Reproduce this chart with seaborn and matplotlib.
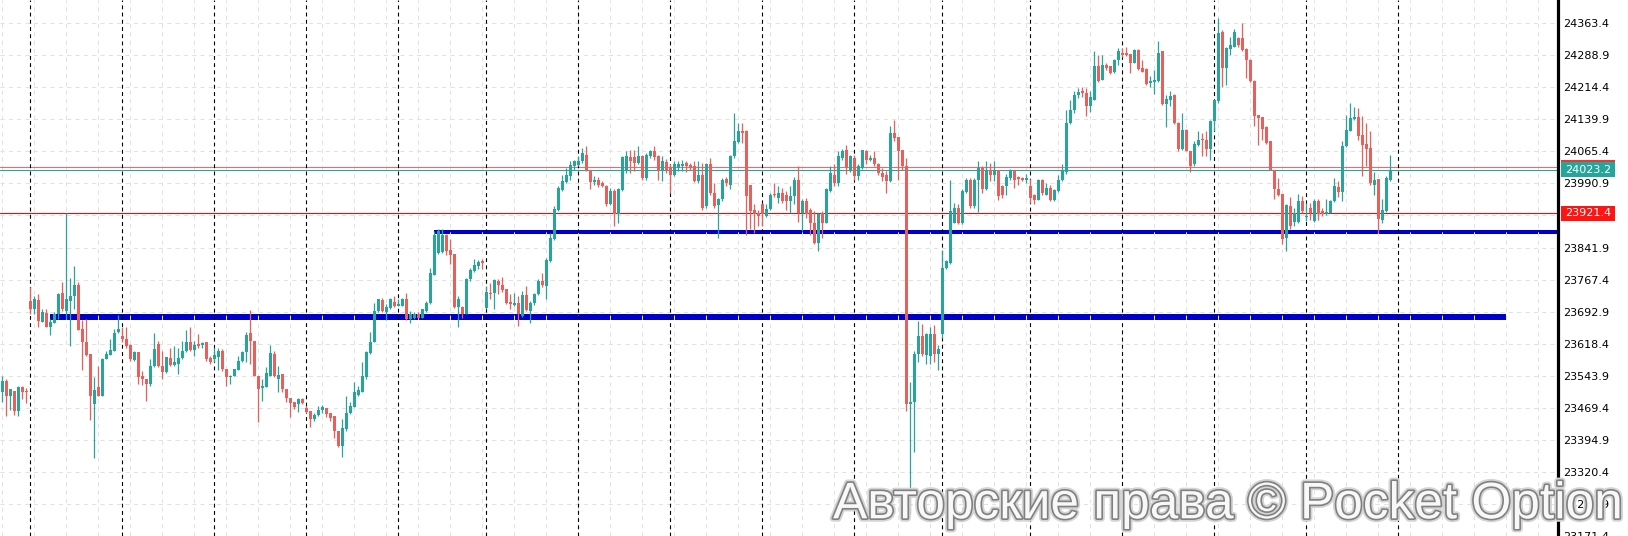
import numpy as np
import pandas as pd
import matplotlib
matplotlib.use("Agg")
import matplotlib.pyplot as plt
import matplotlib.patheffects as pe
from matplotlib.patches import Rectangle
import seaborn as sns

# свечи (OHLC), слева направо
opens = [
    23505, 23532, 23497, 23509, 23462, 23517, 23508, 23718, 23698, 23719, 23669, 23689,
    23657, 23667, 23687, 23737, 23694, 23718, 23729, 23754, 23652, 23621, 23594, 23478,
    23517, 23497, 23582, 23593, 23602, 23646, 23636, 23629, 23615, 23581, 23599, 23544,
    23537, 23524, 23567, 23617, 23567, 23553, 23586, 23569, 23571, 23586, 23602, 23622,
    23604, 23617, 23615, 23621, 23584, 23582, 23588, 23602, 23559, 23540, 23542, 23558,
    23578, 23599, 23643, 23625, 23542, 23515, 23517, 23544, 23595, 23536, 23547, 23513,
    23493, 23483, 23478, 23489, 23469, 23462, 23442, 23452, 23465, 23468, 23456, 23449,
    23416, 23381, 23420, 23456, 23472, 23499, 23506, 23540, 23596, 23622, 23694, 23720,
    23692, 23702, 23715, 23707, 23707, 23721, 23675, 23679, 23687, 23679, 23694, 23712,
    23779, 23830, 23831, 23870, 23836, 23826, 23704, 23704, 23688, 23768, 23787, 23799,
    23810, 23702, 23737, 23735, 23764, 23754, 23745, 23715, 23708, 23712, 23683, 23731,
    23694, 23712, 23733, 23764, 23752, 23810, 23861, 23930, 23975, 23994, 24008, 24031,
    24033, 24042, 24058, 24022, 23994, 24000, 23991, 23986, 23942, 23973, 23919, 23975,
    24019, 24052, 24052, 24039, 24054, 24004, 24054, 24066, 24054, 24023, 24040, 24027,
    24011, 24027, 24031, 24039, 24034, 24031, 23996, 24011, 23938, 24035, 23969, 23940,
    23954, 24002, 23988, 24054, 24087, 24112, 24112, 23988, 23930, 23922, 23944, 23915,
    23932, 23967, 23957, 23969, 23963, 23950, 23961, 23998, 23923, 23950, 23930, 23898,
    23853, 23923, 23899, 23973, 24011, 23992, 24050, 24068, 24019, 24050, 24008, 24027,
    24066, 24046, 24050, 24035, 24015, 24011, 23996, 24108, 24098, 24068, 24032, 23478,
    23482, 23594, 23636, 23591, 23590, 23640, 23594, 23640, 23795, 23806, 23899, 23934,
    23898, 23970, 24000, 23938, 24000, 24027, 23977, 24023, 24011, 24023, 23986, 23984,
    24004, 24019, 24005, 24004, 24000, 23986, 23965, 23953, 24000, 23965, 23981, 23953,
    23973, 24000, 24017, 24131, 24161, 24197, 24205, 24202, 24172, 24186, 24263, 24232,
    24267, 24263, 24249, 24277, 24294, 24294, 24291, 24272, 24302, 24259, 24257, 24224,
    24226, 24228, 24298, 24176, 24186, 24197, 24131, 24070, 24116, 24066, 24035, 24081,
    24094, 24093, 24071, 24135, 24182, 24342, 24259, 24303, 24309, 24329, 24329, 24303,
    24279, 24230, 24151, 24145, 24122, 24089, 24023, 23978, 23967, 23864, 23938, 23901,
    23901, 23950, 23914, 23934, 23903, 23950, 23926, 23919, 23922, 23949, 23983, 23970,
    24077, 24114, 24141, 24145, 24104, 24083, 24073, 23988, 24001, 23906, 23926, 24000,
]
highs = [
    23544, 23536, 23513, 23509, 23520, 23520, 23516, 23751, 23728, 23733, 23698, 23698,
    23675, 23691, 23737, 23762, 23921, 23772, 23799, 23762, 23673, 23675, 23594, 23540,
    23567, 23586, 23602, 23629, 23652, 23684, 23656, 23657, 23617, 23602, 23599, 23554,
    23537, 23582, 23644, 23625, 23602, 23588, 23609, 23613, 23609, 23625, 23650, 23656,
    23625, 23640, 23622, 23622, 23590, 23609, 23609, 23605, 23559, 23546, 23559, 23590,
    23602, 23646, 23696, 23625, 23542, 23536, 23563, 23615, 23602, 23567, 23547, 23513,
    23493, 23483, 23493, 23491, 23474, 23462, 23458, 23474, 23475, 23468, 23458, 23449,
    23416, 23443, 23497, 23482, 23528, 23520, 23576, 23602, 23646, 23714, 23723, 23725,
    23710, 23725, 23728, 23721, 23725, 23735, 23694, 23692, 23691, 23700, 23718, 23795,
    23880, 23885, 23885, 23874, 23861, 23826, 23728, 23706, 23772, 23795, 23816, 23813,
    23816, 23752, 23760, 23769, 23769, 23774, 23746, 23733, 23737, 23729, 23741, 23752,
    23718, 23735, 23768, 23782, 23818, 23876, 23938, 23984, 24011, 24027, 24042, 24046,
    24054, 24073, 24077, 24023, 24008, 24006, 23996, 23988, 23981, 23977, 23981, 24054,
    24066, 24069, 24069, 24079, 24058, 24062, 24069, 24079, 24058, 24054, 24048, 24035,
    24042, 24042, 24046, 24044, 24039, 24042, 24042, 24039, 24039, 24050, 23992, 23957,
    24004, 24006, 24058, 24155, 24131, 24131, 24116, 23988, 23942, 23930, 23946, 23942,
    23969, 23992, 23986, 23981, 23973, 23986, 24006, 24031, 23954, 23957, 23934, 23926,
    23923, 23926, 23981, 24031, 24035, 24066, 24071, 24081, 24058, 24058, 24035, 24069,
    24069, 24058, 24066, 24039, 24027, 24019, 24125, 24139, 24100, 24069, 24050, 23528,
    23602, 23671, 23663, 23644, 23656, 23661, 23615, 23837, 23814, 23999, 23946, 23942,
    23977, 24004, 24004, 24004, 24042, 24031, 24042, 24039, 24042, 24023, 23988, 24014,
    24025, 24023, 24009, 24006, 24014, 24001, 23967, 24001, 24001, 23991, 23988, 23977,
    24011, 24035, 24162, 24185, 24207, 24212, 24215, 24212, 24205, 24298, 24290, 24290,
    24271, 24265, 24280, 24305, 24305, 24308, 24292, 24303, 24303, 24277, 24259, 24240,
    24254, 24322, 24300, 24197, 24207, 24199, 24133, 24155, 24117, 24066, 24089, 24112,
    24108, 24112, 24138, 24186, 24375, 24348, 24309, 24331, 24349, 24331, 24365, 24305,
    24280, 24232, 24151, 24145, 24124, 24089, 24023, 24004, 23967, 23942, 23960, 23934,
    23967, 23961, 23946, 23946, 23955, 23954, 23934, 23954, 23953, 24004, 23996, 24089,
    24151, 24179, 24168, 24166, 24148, 24131, 24112, 24017, 24001, 23955, 24009, 24056,
]
lows = [
    23482, 23449, 23465, 23452, 23451, 23489, 23480, 23687, 23687, 23657, 23669, 23657,
    23639, 23666, 23675, 23694, 23675, 23612, 23698, 23650, 23558, 23590, 23441, 23352,
    23497, 23497, 23582, 23593, 23602, 23644, 23622, 23609, 23578, 23578, 23524, 23522,
    23484, 23520, 23565, 23563, 23536, 23551, 23567, 23567, 23547, 23582, 23598, 23602,
    23590, 23608, 23609, 23578, 23571, 23575, 23558, 23555, 23519, 23524, 23542, 23558,
    23575, 23575, 23571, 23542, 23435, 23486, 23517, 23542, 23540, 23507, 23505, 23482,
    23447, 23466, 23459, 23478, 23458, 23425, 23439, 23451, 23458, 23447, 23439, 23398,
    23377, 23354, 23416, 23455, 23470, 23497, 23505, 23536, 23594, 23621, 23691, 23692,
    23674, 23700, 23704, 23707, 23706, 23673, 23667, 23675, 23677, 23677, 23691, 23710,
    23777, 23826, 23828, 23824, 23803, 23702, 23658, 23677, 23687, 23764, 23785, 23791,
    23793, 23700, 23721, 23700, 23733, 23738, 23710, 23700, 23706, 23660, 23681, 23694,
    23666, 23708, 23731, 23751, 23723, 23808, 23859, 23926, 23973, 23992, 24000, 24023,
    24031, 24039, 24019, 23977, 23988, 23983, 23983, 23938, 23940, 23892, 23899, 23973,
    24015, 24015, 24019, 24035, 24000, 24000, 24050, 24046, 24000, 23996, 24015, 23969,
    24009, 24019, 24019, 24017, 24023, 23994, 23992, 23930, 23934, 23965, 23934, 23865,
    23950, 23984, 23977, 24050, 24085, 24085, 23872, 23884, 23876, 23892, 23892, 23913,
    23930, 23960, 23946, 23946, 23930, 23923, 23942, 23901, 23880, 23911, 23870, 23851,
    23834, 23865, 23898, 23970, 23984, 23984, 24046, 24014, 24017, 24000, 24000, 24025,
    24035, 24042, 24031, 24011, 23996, 23969, 23994, 24089, 24000, 24023, 23462, 23223,
    23366, 23575, 23590, 23571, 23571, 23575, 23557, 23632, 23791, 23803, 23898, 23896,
    23896, 23969, 23934, 23934, 23924, 23969, 23975, 23996, 23996, 23952, 23957, 23965,
    24000, 23980, 23988, 23996, 23992, 23946, 23944, 23952, 23965, 23963, 23950, 23950,
    23970, 23996, 24014, 24128, 24155, 24190, 24193, 24148, 24156, 24184, 24226, 24232,
    24255, 24246, 24247, 24267, 24285, 24288, 24247, 24271, 24254, 24249, 24220, 24216,
    24199, 24226, 24174, 24121, 24172, 24130, 24066, 24068, 24066, 24018, 24032, 24077,
    24054, 24054, 24046, 24112, 24178, 24215, 24220, 24290, 24308, 24309, 24300, 24236,
    24226, 24125, 24081, 24093, 24083, 24022, 23955, 23961, 23849, 23834, 23884, 23893,
    23899, 23922, 23903, 23907, 23901, 23907, 23915, 23918, 23921, 23947, 23960, 23950,
    24076, 24112, 24139, 24093, 24009, 24031, 23988, 23965, 23876, 23899, 23924, 23996,
]
closes = [
    23532, 23497, 23513, 23462, 23517, 23507, 23506, 23698, 23722, 23671, 23691, 23657,
    23669, 23687, 23733, 23698, 23722, 23728, 23754, 23650, 23621, 23592, 23497, 23510,
    23497, 23582, 23594, 23604, 23644, 23653, 23629, 23613, 23582, 23599, 23540, 23536,
    23524, 23567, 23606, 23567, 23553, 23588, 23569, 23575, 23584, 23602, 23622, 23604,
    23616, 23613, 23619, 23582, 23576, 23592, 23602, 23559, 23540, 23544, 23559, 23578,
    23598, 23638, 23625, 23542, 23514, 23520, 23551, 23596, 23544, 23545, 23513, 23493,
    23480, 23472, 23489, 23480, 23460, 23443, 23452, 23465, 23470, 23455, 23445, 23416,
    23381, 23421, 23458, 23474, 23506, 23510, 23544, 23598, 23622, 23694, 23721, 23694,
    23704, 23721, 23706, 23710, 23721, 23675, 23687, 23688, 23679, 23698, 23712, 23782,
    23872, 23880, 23872, 23834, 23824, 23704, 23723, 23687, 23768, 23790, 23801, 23808,
    23805, 23738, 23733, 23766, 23754, 23743, 23712, 23710, 23712, 23687, 23731, 23696,
    23714, 23733, 23764, 23754, 23814, 23865, 23932, 23981, 23996, 24011, 24033, 24044,
    24044, 24062, 24022, 23994, 24000, 23988, 23984, 23942, 23973, 23919, 23977, 24052,
    24054, 24044, 24039, 24054, 24004, 24058, 24066, 24052, 24023, 24042, 24023, 24011,
    24037, 24035, 24036, 24031, 24027, 23996, 24011, 23934, 24035, 23969, 23938, 23954,
    24000, 23991, 24054, 24089, 24112, 24108, 23961, 23926, 23919, 23915, 23919, 23932,
    23965, 23963, 23969, 23950, 23950, 23961, 24000, 23923, 23950, 23919, 23898, 23853,
    23919, 23899, 23977, 24015, 23992, 24054, 24066, 24027, 24054, 24008, 24031, 24068,
    24046, 24050, 24035, 24015, 24006, 23996, 24108, 24097, 24066, 24031, 23478, 23482,
    23594, 23636, 23594, 23640, 23640, 23594, 23607, 23795, 23810, 23926, 23934, 23898,
    23973, 24000, 23938, 24000, 24027, 23977, 24019, 24011, 24023, 23961, 23963, 24006,
    24019, 24000, 24001, 24000, 24004, 23957, 23953, 24000, 23969, 23981, 23953, 23975,
    24000, 24019, 24131, 24162, 24197, 24203, 24201, 24170, 24192, 24263, 24228, 24267,
    24259, 24247, 24278, 24300, 24290, 24290, 24271, 24302, 24257, 24251, 24222, 24228,
    24232, 24295, 24176, 24187, 24195, 24131, 24070, 24116, 24066, 24032, 24083, 24093,
    24091, 24071, 24135, 24186, 24340, 24259, 24305, 24313, 24344, 24313, 24301, 24277,
    24228, 24147, 24143, 24117, 24086, 24023, 23978, 23965, 23862, 23940, 23892, 23921,
    23950, 23926, 23916, 23922, 23950, 23919, 23919, 23924, 23951, 23986, 23970, 24077,
    24116, 24143, 24145, 24102, 24081, 24071, 23991, 24000, 23909, 23929, 24004, 24023,
]

# разделители сессий (номер свечи) и шкала цен
session_breaks = [7, 30, 53, 76, 99, 121, 144, 167, 190, 213, 235, 257, 280, 303, 326, 349]
price_ticks = [24363.4, 24288.9, 24214.4, 24139.9, 24065.4, 23990.9, 23916.4, 23841.9,
               23767.4, 23692.9, 23618.4, 23543.9, 23469.4, 23394.9, 23320.4, 23245.9, 23171.4]

# горизонтальные уровни
alert_level = 23921.4
bid_price = 24023.2
ask_price = 24029.3
level_high = 23877.6
level_high_start = 108
level_low = 23681.3
level_low_start, level_low_end = 12, 376
watermark = "Авторские права © Pocket Option"

df = pd.DataFrame({"open": opens, "high": highs, "low": lows, "close": closes})
df["x"] = np.arange(len(df))
df["up"] = df["close"] >= df["open"]

sns.set_theme(style="white")
plt.rcParams["font.family"] = ["DejaVu Sans"]

TEAL = "#26a69a"
RED = "#e95f5c"
BLUE = "#0000c8"
W, H = 1628, 536
Y0, Y1 = 23171.0, 24417.5
X0, X1 = -0.575, 388.9

fig = plt.figure(figsize=(W / 100, H / 100), dpi=100)
fig.patch.set_facecolor("white")
ax = fig.add_axes([0, 0, 1558 / W, 1])
ax.set_facecolor("white")

# свечи
colors = np.where(df["up"], TEAL, RED)
ax.vlines(df["x"], df["low"], df["high"], colors=colors, lw=0.9, zorder=3)
body = (df["close"] - df["open"]).abs().clip(lower=1.8)
ax.bar(df["x"], body, bottom=df[["open", "close"]].min(axis=1), width=0.72,
       color=colors, linewidth=0, zorder=4)

# уровни поддержки
ax.hlines(level_high, level_high_start, X1, color=BLUE, lw=2.9, zorder=1, capstyle="butt")
ax.hlines(level_low, level_low_start, level_low_end, color=BLUE, lw=4.3, zorder=1, capstyle="butt")

# линии цены
ax.axhline(ask_price, color="#e07070", lw=0.8, zorder=2)
ax.axhline(bid_price, color=TEAL, lw=0.8, zorder=2)
ax.axhline(alert_level, color="#e01010", lw=0.8, zorder=2)

for s in session_breaks:
    ax.axvline(s, color="black", lw=0.8, ls=(0, (3.5, 3)), zorder=2)

ax.set_xlim(X0, X1)
ax.set_ylim(Y0, Y1)
ax.set_xticks(np.arange(0, 389, 8))
ax.set_yticks(price_ticks)
ax.set_yticklabels([f"{v:.1f}" for v in price_ticks])
ax.yaxis.tick_right()
ax.tick_params(axis="x", length=0, labelbottom=False, bottom=False)
ax.tick_params(axis="y", direction="out", length=3, width=0.8, pad=1, labelsize=8,
               labelcolor="black", color="black", right=True, left=False)
ax.grid(True, color="#e2e2e2", lw=0.75, ls=(0, (4, 4)))
ax.set_axisbelow("line")
sns.despine(ax=ax, left=True, bottom=True, top=True, right=False)
ax.spines["right"].set_linewidth(2.3)
ax.spines["right"].set_color("black")

# метки цены справа
trans = ax.get_yaxis_transform()
box_x = 1561 / 1558
box_w = 54 / 1558
box_h = 14.4 * (Y1 - Y0) / H
for price, face, label in [(ask_price, "#e53935", None),
                           (bid_price, TEAL, f"{bid_price:.1f}"),
                           (alert_level, "#ff1414", f"{alert_level:.1f}")]:
    ax.add_patch(Rectangle((box_x, price - box_h / 2), box_w, box_h, transform=trans,
                           facecolor=face, edgecolor="none", clip_on=False, zorder=5))
    if label:
        ax.text(box_x + box_w / 2, price, label, transform=trans, ha="center", va="center",
                color="white", fontsize=8, clip_on=False, zorder=6)

# водяной знак
fig.text(833 / W, 17.7 / H, watermark, fontsize=37, family=["Liberation Sans", "DejaVu Sans"],
         color="#f8f8f8", ha="left", va="baseline", zorder=10,
         path_effects=[pe.Stroke(linewidth=5, foreground="#d4d4d4"),
                       pe.Stroke(linewidth=2.4, foreground="#808080"),
                       pe.Normal()])

fig.savefig("out.png", dpi=100, facecolor="white")
